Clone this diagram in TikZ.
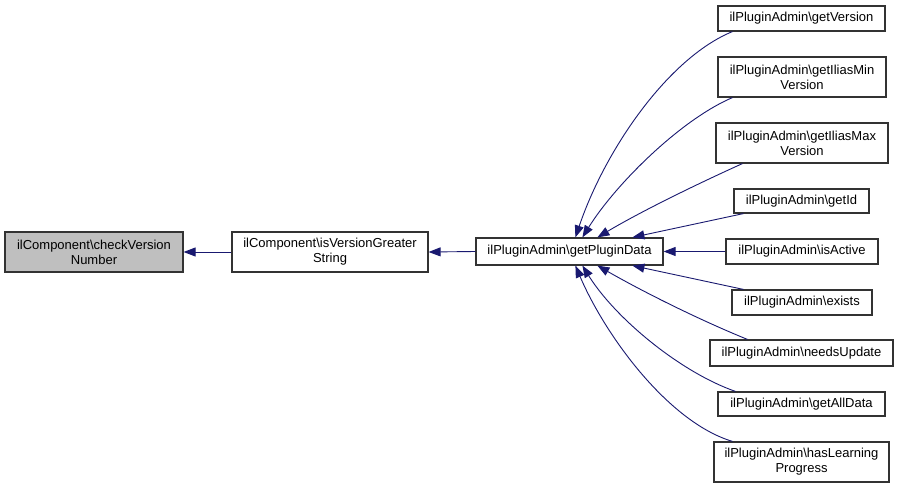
\documentclass[tikz,border=0pt]{standalone}
\usepackage{fontspec}
\setmainfont{Liberation Sans}
\usetikzlibrary{arrows.meta}
\definecolor{edgeblue}{HTML}{191970}
\definecolor{boxgray}{HTML}{BFBFBF}
\definecolor{boxline}{HTML}{333333}
\begin{document}
\begin{tikzpicture}[x=1pt,y=-1pt,
  fn/.style={draw=boxline,line width=1.2pt,fill=white,inner sep=0pt,align=center,
    font=\fontsize{13}{15}\selectfont},
  edge/.style={draw=edgeblue,line width=0.9pt,-{Triangle[length=12pt,width=9pt]}}]
\useasboundingbox (0,0) rectangle (899,489);
\fill[white] (0,0) rectangle (899,489);
% nodes
\node[fn,fill=boxgray,minimum width=178pt,minimum height=40pt] (cvn) at (94,252) {ilComponent\textbackslash checkVersion\\Number};
\node[fn,minimum width=196pt,minimum height=40pt] (ivg) at (330,252) {ilComponent\textbackslash isVersionGreater\\String};
\node[fn,minimum width=187pt,minimum height=27pt] (gpd) at (569.5,251.5) {ilPluginAdmin\textbackslash getPluginData};
\node[fn,minimum width=167pt,minimum height=25pt] (gv) at (801.5,18.5) {ilPluginAdmin\textbackslash getVersion};
\node[fn,minimum width=168pt,minimum height=40pt] (gmin) at (802,77) {ilPluginAdmin\textbackslash getIliasMin\\Version};
\node[fn,minimum width=172pt,minimum height=40pt] (gmax) at (802,143) {ilPluginAdmin\textbackslash getIliasMax\\Version};
\node[fn,minimum width=135pt,minimum height=24pt] (gid) at (801.5,201) {ilPluginAdmin\textbackslash getId};
\node[fn,minimum width=152pt,minimum height=25pt] (ia) at (802,251.5) {ilPluginAdmin\textbackslash isActive};
\node[fn,minimum width=140pt,minimum height=25pt] (ex) at (802,302.5) {ilPluginAdmin\textbackslash exists};
\node[fn,minimum width=183pt,minimum height=26pt] (nu) at (801.5,353) {ilPluginAdmin\textbackslash needsUpdate};
\node[fn,minimum width=167pt,minimum height=24pt] (gad) at (801.5,404) {ilPluginAdmin\textbackslash getAllData};
\node[fn,minimum width=175pt,minimum height=40pt] (hlp) at (801.5,462) {ilPluginAdmin\textbackslash hasLearning\\Progress};
% edges
\draw[edge] (ivg.west) -- (cvn.east);
\draw[edge] (gpd.west) -- (ivg.east);
\draw[edge] (ia.west) -- (gpd.east);
\draw[edge] ([xshift=15pt]gv.south west) .. controls (668,58) and (605,150) .. ([xshift=100pt]gpd.north west);
\draw[edge] ([xshift=15pt]gmin.south west) .. controls (680,120) and (615,185) .. ([xshift=107pt]gpd.north west);
\draw[edge] ([xshift=27pt]gmax.south west) .. controls (695,185) and (640,212) .. ([xshift=122pt]gpd.north west);
\draw[edge] ([xshift=10pt]gid.south west) -- ([xshift=157pt]gpd.north west);
\draw[edge] ([xshift=12pt]ex.north west) -- ([xshift=157pt]gpd.south west);
\draw[edge] ([xshift=38pt]nu.north west) .. controls (695,318) and (640,290) .. ([xshift=122pt]gpd.south west);
\draw[edge] ([xshift=18pt]gad.north west) .. controls (680,372) and (615,318) .. ([xshift=107pt]gpd.south west);
\draw[edge] ([xshift=19pt]hlp.north west) .. controls (668,422) and (605,335) .. ([xshift=100pt]gpd.south west);
\end{tikzpicture}
\end{document}
